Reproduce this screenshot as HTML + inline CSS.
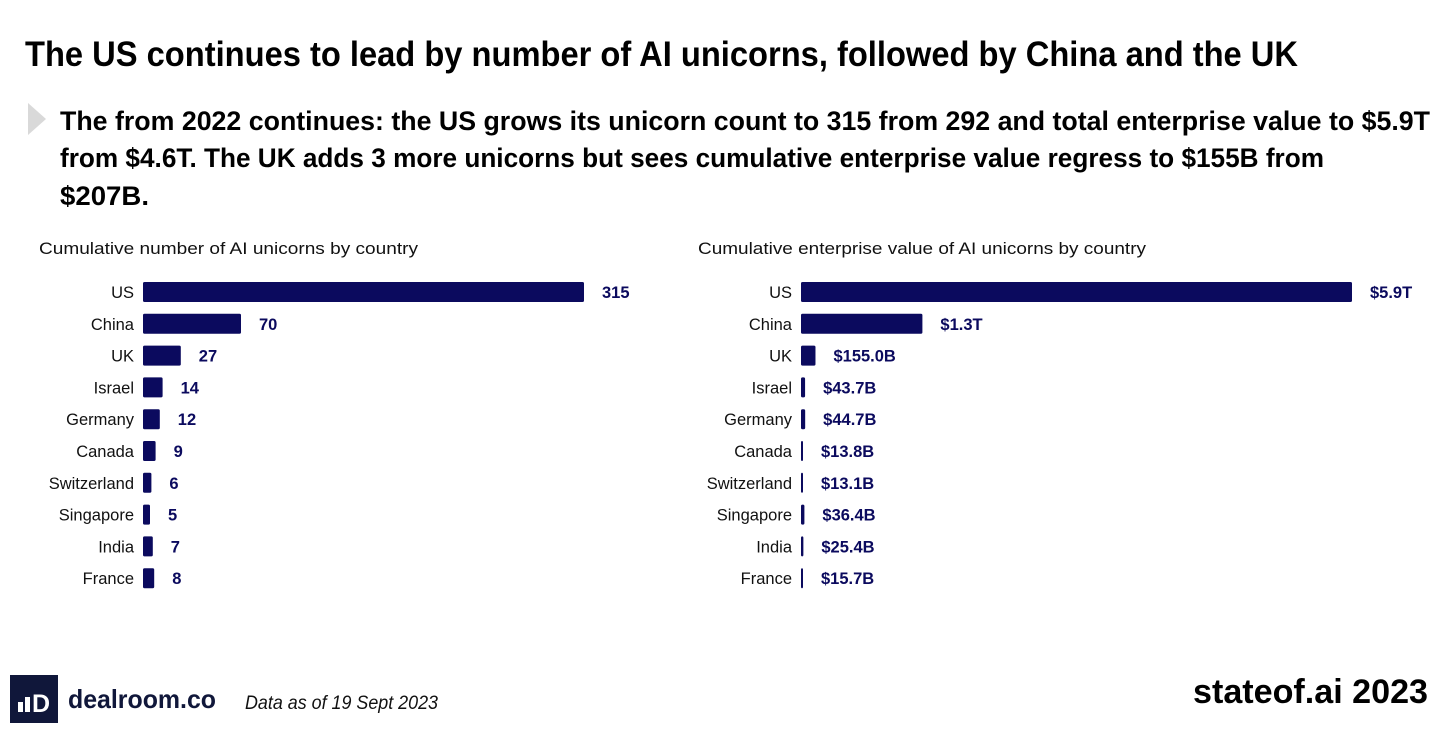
<!DOCTYPE html>
<html><head><meta charset="utf-8"><style>
html,body{margin:0;padding:0;background:#fff;}
svg{display:block;font-family:"Liberation Sans",sans-serif;}
</style></head><body>
<svg id="root" width="1456" height="733" viewBox="0 0 1456 733">
<text x="25" y="66" font-size="35" font-weight="bold" fill="#000" textLength="1273" lengthAdjust="spacingAndGlyphs">The US continues to lead by number of AI unicorns, followed by China and the UK</text>
<polygon points="28,103 46,119 28,135" fill="#d9d9d9"/>
<g font-size="27" font-weight="bold" fill="#000">
<text x="60" y="130" textLength="1370" lengthAdjust="spacingAndGlyphs">The from 2022 continues: the US grows its unicorn count to 315 from 292 and total enterprise value to $5.9T</text>
<text x="60" y="167" textLength="1264" lengthAdjust="spacingAndGlyphs">from $4.6T. The UK adds 3 more unicorns but sees cumulative enterprise value regress to $155B from</text>
<text x="60" y="205" textLength="89" lengthAdjust="spacingAndGlyphs">$207B.</text>
</g>
<text x="39" y="254" font-size="17" fill="#111" textLength="379" lengthAdjust="spacingAndGlyphs">Cumulative number of AI unicorns by country</text>
<text x="698" y="254" font-size="17" fill="#111" textLength="448" lengthAdjust="spacingAndGlyphs">Cumulative enterprise value of AI unicorns by country</text>
<g id="left"></g><g id="right"></g>
<rect x="10" y="675" width="48" height="48" fill="#10173a"/>
<rect x="18" y="702" width="5" height="10" fill="#fff"/><rect x="25" y="697" width="5" height="15" fill="#fff"/>
<text x="32" y="712" font-size="25" font-weight="bold" fill="#fff">D</text>
<text x="68" y="708" font-size="26" font-weight="bold" fill="#10173a" textLength="148" lengthAdjust="spacingAndGlyphs">dealroom.co</text>
<text x="245" y="709" font-size="19" font-style="italic" fill="#111" textLength="193" lengthAdjust="spacingAndGlyphs">Data as of 19 Sept 2023</text>
<text x="1428" y="703" text-anchor="end" font-size="34" font-weight="bold" fill="#000" textLength="235" lengthAdjust="spacingAndGlyphs">stateof.ai 2023</text>
</svg>
<script>
const countries = ["US","China","UK","Israel","Germany","Canada","Switzerland","Singapore","India","France"];
const unicornCounts = [315,70,27,14,12,9,6,5,7,8];
const unicornLabels = ["315","70","27","14","12","9","6","5","7","8"];
const enterpriseValuesB = [5900,1300,155,43.7,44.7,13.8,13.1,36.4,25.4,15.7];
const enterpriseLabels = ["$5.9T","$1.3T","$155.0B","$43.7B","$44.7B","$13.8B","$13.1B","$36.4B","$25.4B","$15.7B"];
const NS="http://www.w3.org/2000/svg";
function rowY(i){return 292+i*31.8;}
function draw(gid,x0,scale,vals,labels,minW,prefix){
  const g=document.getElementById(gid);
  vals.forEach((v,i)=>{
    const y=rowY(i);
    const w=Math.max(minW,v*scale);
    const lab=document.createElementNS(NS,'text');
    
    
    lab.setAttribute('x',x0-9);lab.setAttribute('y',y+6);lab.setAttribute('text-anchor','end');
    lab.setAttribute('font-size','16.5');lab.setAttribute('fill','#111');lab.textContent=countries[i];g.appendChild(lab);
    const r=document.createElementNS(NS,'rect');
    
    
    r.setAttribute('x',x0);r.setAttribute('y',y-10);r.setAttribute('width',w);r.setAttribute('height',20);
    r.setAttribute('rx',1.5);r.setAttribute('fill','#0b0a5e');g.appendChild(r);
    const t=document.createElementNS(NS,'text');
    
    
    t.setAttribute('x',x0+w+18);t.setAttribute('y',y+6);t.setAttribute('font-size','16.5');
    t.setAttribute('font-weight','bold');t.setAttribute('fill','#0b0a5e');t.textContent=labels[i];g.appendChild(t);
  });
}
draw('left',143,441/315,unicornCounts,unicornLabels,2,'unicorn-count');
draw('right',801,551/5900,enterpriseValuesB,enterpriseLabels,2,'enterprise-value');
</script>
</body></html>
